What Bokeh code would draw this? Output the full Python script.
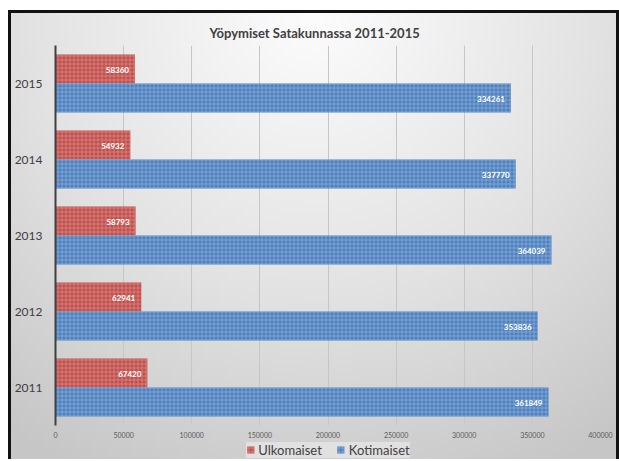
from bokeh.plotting import figure
from bokeh.layouts import column
from bokeh.models import (ColumnDataSource, FactorRange, Range1d, FixedTicker, LabelSet,
                          Legend, LegendItem, BasicTickFormatter)
from bokeh.transform import dodge
from bokeh.core.properties import value
from bokeh.embed import file_html
from bokeh.resources import INLINE

years = ["2011", "2012", "2013", "2014", "2015"]
ulkomaiset = [67420, 62941, 58793, 54932, 58360]
kotimaiset = [361849, 353836, 364039, 337770, 334261]
x_ticks = [0, 50000, 100000, 150000, 200000, 250000, 300000, 350000, 400000]
title_text = "Yöpymiset Satakunnassa 2011-2015"
series_names = ["Ulkomaiset", "Kotimaiset"]

FONT = "Lato"
RED = "#c0504d"
BLUE = "#4f81bd"
RED_HATCH = "#e49a98"
BLUE_HATCH = "#9dbbe3"

src = ColumnDataSource(dict(
    year=years,
    ulko=ulkomaiset,
    koti=kotimaiset,
    ulko_txt=[str(v) for v in ulkomaiset],
    koti_txt=[str(v) for v in kotimaiset],
))

p = figure(width=605, height=427, output_backend="svg", toolbar_location=None,
           y_range=FactorRange(factors=years, range_padding=0),
           x_range=Range1d(0, 400000),
           min_border_left=30, min_border_right=16, min_border_top=32, min_border_bottom=14)
p.border_fill_color = None
p.background_fill_color = None
p.outline_line_color = None

p.title.text = title_text
p.title.align = "left"
p.title.offset = 154
p.title.text_font = FONT
p.title.text_font_size = "13px"
p.title.text_font_style = "bold"
p.title.text_color = "#404040"
p.title.standoff = 10

bh = 0.38
hatch = dict(hatch_pattern="+", hatch_scale=4, hatch_weight=1, hatch_alpha=0.55)
r1 = p.hbar(y=dodge("year", bh / 2, range=p.y_range), right="ulko", left=0, height=bh, source=src,
            fill_color=RED, line_color=None, hatch_color=RED_HATCH, **hatch)
r2 = p.hbar(y=dodge("year", -bh / 2, range=p.y_range), right="koti", left=0, height=bh, source=src,
            fill_color=BLUE, line_color=None, hatch_color=BLUE_HATCH, **hatch)

for col, txt, off in (("ulko", "ulko_txt", bh / 2), ("koti", "koti_txt", -bh / 2)):
    lbl = LabelSet(x=col, y=dodge("year", off, range=p.y_range), text=txt, source=src,
                   text_align="right", text_baseline="middle", x_offset=-6, y_offset=-1,
                   text_color="white", text_font=value(FONT), text_font_size="8px",
                   text_font_style="bold")
    p.add_layout(lbl)

p.xaxis.ticker = FixedTicker(ticks=x_ticks)
p.xaxis.formatter = BasicTickFormatter(use_scientific=False)
p.xaxis.axis_line_color = None
p.xaxis.major_tick_line_color = None
p.xaxis.minor_tick_line_color = None
p.xaxis.major_label_text_font = FONT
p.xaxis.major_label_text_font_size = "7px"
p.xaxis.major_label_text_color = "#595959"
p.xaxis.major_label_standoff = 0

p.yaxis.axis_line_color = "#404040"
p.yaxis.axis_line_width = 2
p.yaxis.major_tick_line_color = None
p.yaxis.minor_tick_line_color = None
p.yaxis.major_label_text_font = FONT
p.yaxis.major_label_text_font_size = "12px"
p.yaxis.major_label_text_color = "#404040"
p.yaxis.major_label_standoff = 7

p.xgrid.grid_line_color = "#c6c6c6"
p.xgrid.grid_line_width = 1
p.ygrid.grid_line_color = None

# legend strip below the chart; its renderers are hidden, only the legend is shown
pl = figure(width=605, height=19, output_backend="svg", toolbar_location=None,
            x_range=Range1d(0, 400000), y_range=FactorRange(factors=years), min_border=0)
pl.border_fill_color = None
pl.background_fill_color = None
pl.outline_line_color = None
pl.axis.visible = False
pl.grid.grid_line_color = None
l1 = pl.hbar(y="year", right="ulko", left=0, height=0.5, source=src, fill_color=RED, line_color=None,
             hatch_color=RED_HATCH, visible=False, **hatch)
l2 = pl.hbar(y="year", right="koti", left=0, height=0.5, source=src, fill_color=BLUE, line_color=None,
             hatch_color=BLUE_HATCH, visible=False, **hatch)
legend = Legend(items=[LegendItem(label=series_names[0], renderers=[l1]),
                       LegendItem(label=series_names[1], renderers=[l2])],
                orientation="horizontal", location="center",
                label_text_font=FONT, label_text_font_size="13px", label_text_color="#404040",
                glyph_width=9, glyph_height=9, label_standoff=4, spacing=14,
                padding=3, margin=0, background_fill_color="#e2e2e2", background_fill_alpha=0.9,
                border_line_color=None, inactive_fill_alpha=0)
pl.add_layout(legend)

layout = column(p, pl, spacing=0, styles={
    "margin-left": "8px",
    "margin-top": "10px",
    "border-top": "3px solid #111111",
    "border-left": "3px solid #111111",
    "border-right": "3px solid #111111",
    "background": "radial-gradient(ellipse 85% 115% at 50% 0%, #fcfcfc 0%, #e2e2e2 55%, #c6c6c6 100%)",
})

open("out.html", "w").write(file_html(layout, INLINE))
